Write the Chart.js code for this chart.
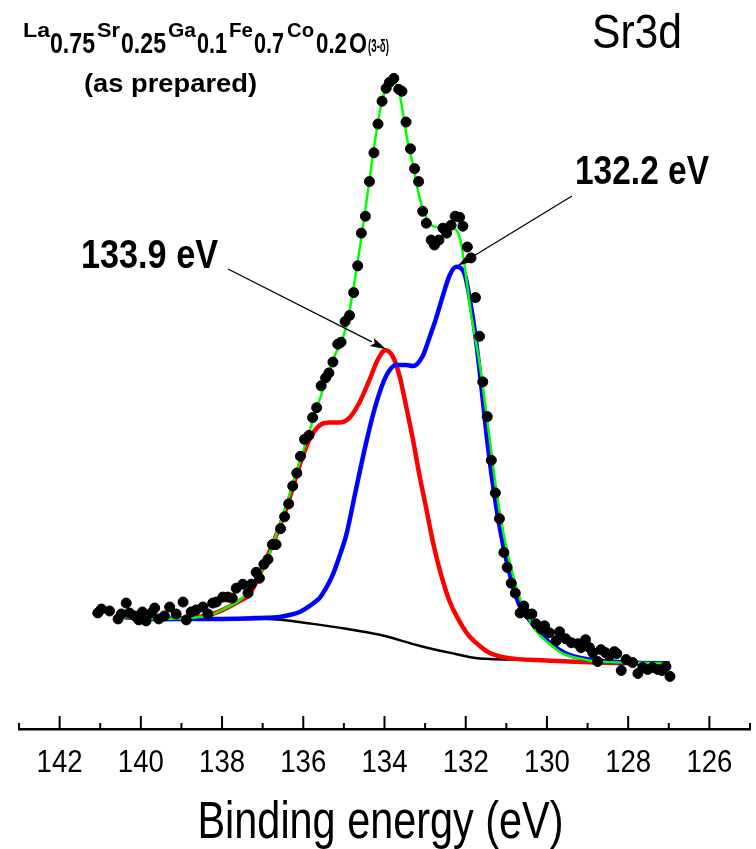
<!DOCTYPE html>
<html>
<head>
<meta charset="utf-8">
<script src="https://cdn.jsdelivr.net/npm/chart.js@4.4.1/dist/chart.umd.min.js"></script>
<style>
  html, body { margin: 0; padding: 0; background: #fff; }
  canvas { display: block; }
</style>
</head>
<body>
<canvas id="xps" width="756" height="849"></canvas>
<script>
// Sr3d spectrum, binding energy (eV) vs intensity (arbitrary units)
var dotsE = [141.06,140.97,140.77,140.56,140.48,140.36,140.28,140.15,140.05,139.96,
  139.87,139.74,139.66,139.56,139.42,139.29,139.13,138.96,138.88,138.76,
  138.64,138.47,138.35,138.23,138.14,137.98,137.86,137.75,137.65,137.49,
  137.36,137.28,137.16,137.08,136.97,136.87,136.76,136.67,136.56,136.46,
  136.36,136.26,136.16,136.07,135.97,135.86,135.77,135.67,135.56,135.45,
  135.37,135.27,135.15,135.07,134.97,134.86,134.76,134.66,134.57,134.47,
  134.37,134.26,134.16,134.06,133.96,133.88,133.77,133.65,133.57,133.47,
  133.36,133.26,133.16,133.06,132.97,132.85,132.77,132.66,132.56,132.47,
  132.36,132.26,132.15,132.07,131.96,131.87,131.76,131.66,131.58,131.47,
  131.37,131.27,131.17,131.06,130.98,130.88,130.78,130.66,130.57,130.47,
  130.37,130.27,130.14,130.06,129.94,129.77,129.69,129.54,129.40,129.24,
  129.16,129.05,128.95,128.87,128.75,128.67,128.56,128.46,128.34,128.28,
  128.17,128.05,127.89,127.76,127.64,127.52,127.40,127.27,127.17,127.07,
  126.97];
var dotsI = [117,121,119,111,116,127,117,114,110,118,
  109,117,122,111,114,123,116,128,110,118,
  120,123,116,127,128,133,133,132,142,146,
  137,146,158,152,166,171,186,186,202,214,
  227,245,258,275,292,296,314,324,346,354,
  359,370,388,390,411,417,440,467,500,517,
  552,581,610,633,646,652,656,645,643,612,
  585,565,552,522,510,493,488,493,505,500,
  508,517,516,507,486,475,435,396,350,315,
  271,238,212,178,163,147,137,117,124,116,
  116,106,101,104,97,89,98,91,87,86,
  82,90,82,77,68,80,77,74,78,76,
  59,70,67,56,62,60,62,60,59,63,
  53];

// fit envelope (green)
var envE = [140.40,139.54,138.39,137.90,137.40,136.91,136.50,136.09,135.68,135.27,134.94,134.62,134.41,134.20,
  134.04,133.80,133.68,133.55,133.43,133.30,133.14,132.97,132.81,132.65,132.48,132.32,132.15,132.07,131.87,
  131.66,131.42,131.25,131.09,130.88,130.64,130.27,129.94,129.61,129.20,128.79,127.97,126.98];
var envI = [113,111,114,122,136,169,216,269,322,372,406,482,542,602,
  637,651,649,622,592,569,536,516,507,506,507,506,496,479,419,
  369,296,242,202,162,129,99,86,76,71,68,67,66];

// component at 132.2 eV (blue)
var lowE = [140.40,139.54,138.00,137.08,136.58,136.34,136.09,135.85,135.68,135.60,
  135.44,135.27,135.11,134.94,134.70,134.45,134.20,133.96,133.71,133.47,
  133.30,133.06,132.89,132.73,132.57,132.40,132.24,132.03,131.91,131.78,
  131.66,131.46,131.29,131.13,130.92,130.68,130.43,130.06,129.57,128.95,
  127.97,126.98];
var lowI = [113,111,111,112,113,115,118,124,129,132,
  142,156,174,196,242,289,329,356,367,367,
  366,376,395,414,436,457,466,459,436,402,
  362,287,235,196,157,125,110,92,77,70,
  67,66];

// component at 133.9 eV (red)
var highE = [140.40,139.54,138.23,137.57,137.32,136.83,136.42,136.09,135.85,135.60,135.35,135.11,134.86,134.62,
  134.37,134.17,133.98,133.80,133.63,133.47,133.30,133.14,132.97,132.81,132.65,132.40,132.20,131.96,131.66,
  131.42,131.01,130.02,128.79,126.98];
var highI = [113,111,116,129,136,179,222,266,292,306,309,309,314,329,
  352,372,382,376,356,326,292,256,222,189,162,129,112,96,84,
  77,72,69,67,66];

// background (black)
var bgE = [139.54,136.91,135.77,134.94,134.12,133.14,132.40,131.66,130.84,129.69,126.98];
var bgI = [110,111,106,101,95,84,77,71,70,68.5,66];

var tickLabels = [142,140,138,136,134,132,130,128,126];
var axisTitle = 'Binding energy (eV)';

var peakLabels = ['133.9 eV', '132.2 eV'];
var peakE = [133.96, 132.20];
var peakI = [383, 467];

var FONT = "'Liberation Sans', Arial, sans-serif";

function pts(xs, ys) {
  return xs.map(function(x, i) { return {x: x, y: ys[i]}; });
}

// draws text squeezed to span x0..x1 (the original uses a narrow face)
function fitText(ctx, txt, x0, x1, base, size, bold) {
  ctx.save();
  ctx.font = (bold ? 'bold ' : '') + size + 'px ' + FONT;
  var w = ctx.measureText(txt).width;
  ctx.translate(x0, base);
  ctx.scale((x1 - x0) / w, 1);
  ctx.textAlign = 'left';
  ctx.textBaseline = 'alphabetic';
  ctx.fillStyle = '#000';
  ctx.fillText(txt, 0, 0);
  ctx.restore();
}

function arrow(ctx, x0, y0, x1, y1) {
  var a = Math.atan2(y1 - y0, x1 - x0), len = 16, hw = 4.5;
  ctx.save();
  ctx.strokeStyle = '#000';
  ctx.lineWidth = 1.3;
  ctx.beginPath();
  ctx.moveTo(x0, y0);
  ctx.lineTo(x1 - len * Math.cos(a), y1 - len * Math.sin(a));
  ctx.stroke();
  ctx.translate(x1, y1);
  ctx.rotate(a);
  ctx.beginPath();
  ctx.moveTo(0, 0);
  ctx.lineTo(-len, -hw);
  ctx.lineTo(-len * 0.8, 0);
  ctx.lineTo(-len, hw);
  ctx.closePath();
  ctx.fillStyle = '#000';
  ctx.fill();
  ctx.restore();
}

// inward tick marks (long on even eV, short on odd) and narrow tick labels
var xAxisDeco = {
  id: 'xAxisDeco',
  afterDraw: function(chart) {
    var sx = chart.scales.x, ctx = chart.ctx, y0 = chart.chartArea.bottom;
    ctx.save();
    ctx.strokeStyle = '#000';
    ctx.lineWidth = 2;
    sx.ticks.forEach(function(t) {
      var px = sx.getPixelForValue(t.value);
      var len = Math.round(t.value) % 2 === 0 ? 13 : 6;
      ctx.beginPath();
      ctx.moveTo(px, y0);
      ctx.lineTo(px, y0 - len);
      ctx.stroke();
      if (tickLabels.indexOf(t.value) >= 0) {
        fitText(ctx, String(t.value), px - 23, px + 23, y0 + 43, 32, false);
      }
    });
    ctx.restore();
    var cx = (sx.left + sx.right) / 2 - 4;
    fitText(ctx, axisTitle, cx - 183, cx + 183, 838, 51, false);
  }
};

var notes = {
  id: 'notes',
  afterDraw: function(chart) {
    var ctx = chart.ctx, sx = chart.scales.x, sy = chart.scales.y;

    // formula: element symbols small and raised, stoichiometry large
    var parts = [
      ['La', 23, 50, 37, 20], ['0.75', 50, 95, 53, 29],
      ['Sr', 97, 120, 37, 20], ['0.25', 121, 166, 53, 29],
      ['Ga', 168, 196, 37, 20], ['0.1', 197, 227, 53, 29],
      ['Fe', 229, 253, 37, 20], ['0.7', 254, 284, 53, 29],
      ['Co', 287, 314, 37, 20], ['0.2', 316, 347, 53, 29],
      ['O', 349, 367, 53, 29], ['(3-\u03b4)', 368, 389, 52, 18]
    ];
    parts.forEach(function(p) { fitText(ctx, p[0], p[1], p[2], p[3], p[4], true); });
    fitText(ctx, '(as prepared)', 84, 257, 92, 26, true);
    fitText(ctx, 'Sr3d', 592, 682, 48, 48, false);

    fitText(ctx, peakLabels[0], 81, 218, 268, 41, true);
    fitText(ctx, peakLabels[1], 575, 709, 184, 41, true);

    arrow(ctx, 228, 269, sx.getPixelForValue(peakE[0]), sy.getPixelForValue(peakI[0]));
    arrow(ctx, 572, 196, sx.getPixelForValue(peakE[1]), sy.getPixelForValue(peakI[1]));
  }
};

var ctx = document.getElementById('xps');

var chart = new Chart(ctx, {
  type: 'line',
  data: {
    datasets: [
      {
        label: 'Sr3d data',
        data: pts(dotsE, dotsI),
        showLine: false,
        pointRadius: 5,
        pointBackgroundColor: '#000',
        pointBorderColor: '#000',
        pointBorderWidth: 1,
        order: 0
      },
      {
        label: 'envelope',
        data: pts(envE, envI),
        borderColor: '#00ff00',
        borderWidth: 2.5,
        pointRadius: 0,
        cubicInterpolationMode: 'monotone',
        order: 1
      },
      {
        label: '132.2 eV',
        data: pts(lowE, lowI),
        borderColor: '#0000ff',
        borderWidth: 4.5,
        pointRadius: 0,
        cubicInterpolationMode: 'monotone',
        order: 2
      },
      {
        label: '133.9 eV',
        data: pts(highE, highI),
        borderColor: '#ff0000',
        borderWidth: 4.5,
        pointRadius: 0,
        cubicInterpolationMode: 'monotone',
        order: 3
      },
      {
        label: 'background',
        data: pts(bgE, bgI),
        borderColor: '#000',
        borderWidth: 2.5,
        pointRadius: 0,
        cubicInterpolationMode: 'monotone',
        order: 4
      }
    ]
  },
  options: {
    responsive: false,
    animation: false,
    devicePixelRatio: 1,
    layout: { padding: { left: 19, right: 5, top: 0, bottom: 0 } },
    plugins: {
      legend: { display: false },
      tooltip: { enabled: false }
    },
    scales: {
      x: {
        type: 'linear',
        reverse: true,
        min: 125,
        max: 143,
        grid: { display: false, drawTicks: false },
        border: { display: true, color: '#000', width: 2.5 },
        ticks: { stepSize: 1, autoSkip: false, display: false },
        title: { display: false, text: axisTitle },
        afterFit: function(s) { s.height = 120; }
      },
      y: { display: false, min: 0, max: 729 }
    }
  },
  plugins: [xAxisDeco, notes]
});
</script>
</body>
</html>
